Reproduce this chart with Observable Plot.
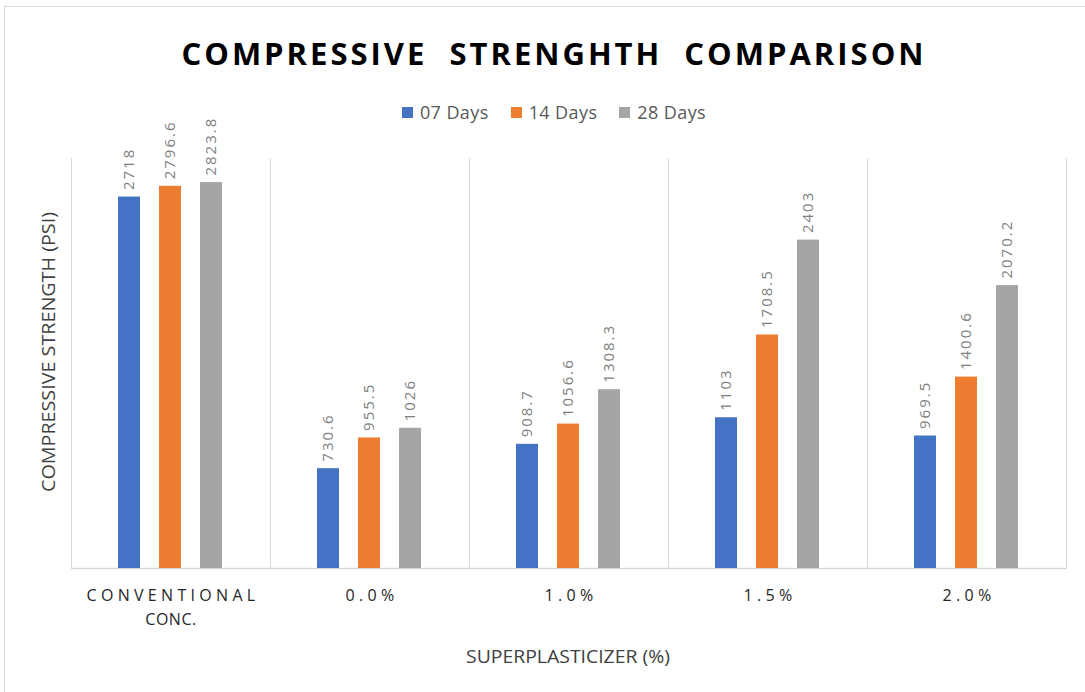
<!DOCTYPE html>
<html><head><meta charset="utf-8">
<script src="https://cdn.jsdelivr.net/npm/d3@7"></script>
<script src="https://cdn.jsdelivr.net/npm/@observablehq/plot@0.6"></script>
<style>
body{margin:0;background:#fff;font-family:"Open Sans",sans-serif;}
#wrap{position:relative;width:1085px;height:692px;overflow:hidden;background:#fff;}
#frame{position:absolute;left:4px;top:6px;width:1100px;height:700px;border:1px solid #d9d9d9;box-sizing:border-box;}
#title{position:absolute;left:0;width:1108px;top:38px;text-align:center;font-weight:700;font-size:31px;line-height:31px;letter-spacing:3px;word-spacing:11px;color:#000;white-space:nowrap;}
#legend{position:absolute;left:0;width:1108px;top:101px;display:flex;justify-content:center;gap:22px;font-size:18px;line-height:22px;color:#595959;}
#legend .it{display:flex;align-items:center;gap:7px;}
#legend .sw{width:11px;height:11px;display:inline-block;}
#legend .tx{letter-spacing:0.4px;}
.lab{position:absolute;left:0;top:0;white-space:nowrap;color:#404040;line-height:1;}
#ylab{font-size:19px;}
#xlab{font-size:19px;}
#chart{position:absolute;left:0;top:0;}
#chart svg g[fill="#7f7f7f"] text{letter-spacing:2px;}
#chart svg g[fill="#262626"] text{letter-spacing:4.3px;}
#chart svg g[fill="#262627"] text{letter-spacing:0.5px;}
</style></head>
<body>
<div id="wrap">
  <div id="frame"></div>
  <div id="chart"></div>
  <div id="title">COMPRESSIVE STRENGHTH COMPARISON</div>
  <div id="legend"></div>
  <div id="ylab" class="lab">COMPRESSIVE STRENGTH (PSI)</div>
  <div id="xlab" class="lab">SUPERPLASTICIZER (%)</div>
</div>
<script>
const categories = ["CONVENTIONAL CONC.", "0.0%", "1.0%", "1.5%", "2.0%"];
const tickLine1 = ["CONVENTIONAL", "0.0%", "1.0%", "1.5%", "2.0%"];
const tickLine2 = ["CONC.", "", "", "", ""];
const series = ["07 Days", "14 Days", "28 Days"];
const days07 = [2718, 730.6, 908.7, 1103, 969.5];
const days14 = [2796.6, 955.5, 1056.6, 1708.5, 1400.6];
const days28 = [2823.8, 1026, 1308.3, 2403, 2070.2];
const colors = ["#4472c4", "#ed7d31", "#a5a5a5"];

const seriesValues = [days07, days14, days28];
const data = [];
categories.forEach((c, i) => {
  seriesValues.forEach((arr, j) => data.push({cat: c, series: series[j], value: arr[i]}));
});
const ticks = categories.map((c, i) => ({cat: c, l1: tickLine1[i], l2: tickLine2[i]}));

// legend
const legend = document.getElementById("legend");
series.forEach((s, j) => {
  const it = document.createElement("div");
  it.className = "it";
  it.innerHTML = `<span class="sw" style="background:${colors[j]}"></span><span class="tx">${s}</span>`;
  legend.appendChild(it);
});

const chart = Plot.plot({
  width: 1085,
  height: 692,
  marginLeft: 70,
  marginRight: 18,
  marginTop: 158,
  marginBottom: 124,
  style: {fontFamily: "'Open Sans', sans-serif", background: "transparent"},
  fx: {domain: categories, padding: 0, axis: null},
  x: {domain: series, paddingInner: 0.46, paddingOuter: 1.15, axis: null},
  y: {domain: [0, 3000], axis: null},
  color: {domain: series, range: colors},
  marks: [
    Plot.frame({anchor: "left", stroke: "#d9d9d9"}),
    Plot.frame({anchor: "right", stroke: "#d9d9d9"}),
    Plot.ruleY([0], {stroke: "#d9d9d9", strokeWidth: 1.5}),
    Plot.barY(data, {fx: "cat", x: "series", y: "value", fill: "series"}),
    Plot.text(data, {fx: "cat", x: "series", y: "value", text: d => String(d.value), rotate: -90, textAnchor: "start", dy: -7, fill: "#7f7f7f", fontSize: 15}),
    Plot.text(ticks, {fx: "cat", text: "l1", frameAnchor: "bottom", dy: 32, dx: 2, fill: "#262626", fontSize: 16}),
    Plot.text(ticks, {fx: "cat", text: "l2", frameAnchor: "bottom", dy: 56, fill: "#262627", fontSize: 16})
  ]
});
document.getElementById("chart").appendChild(chart);

// place rotated / condensed axis titles (Calibri-like narrow text)
function place(el, cx, cy, targetLen, rotate) {
  const w = el.getBoundingClientRect().width;
  const s = targetLen / w;
  el.style.left = cx + "px";
  el.style.top = cy + "px";
  el.style.transform = `translate(-50%,-50%)` + (rotate ? " rotate(-90deg)" : "") + ` scaleX(${s})`;
}
place(document.getElementById("ylab"), 48, 352, 280, true);
place(document.getElementById("xlab"), 568, 656, 204, false);
</script>
</body></html>
